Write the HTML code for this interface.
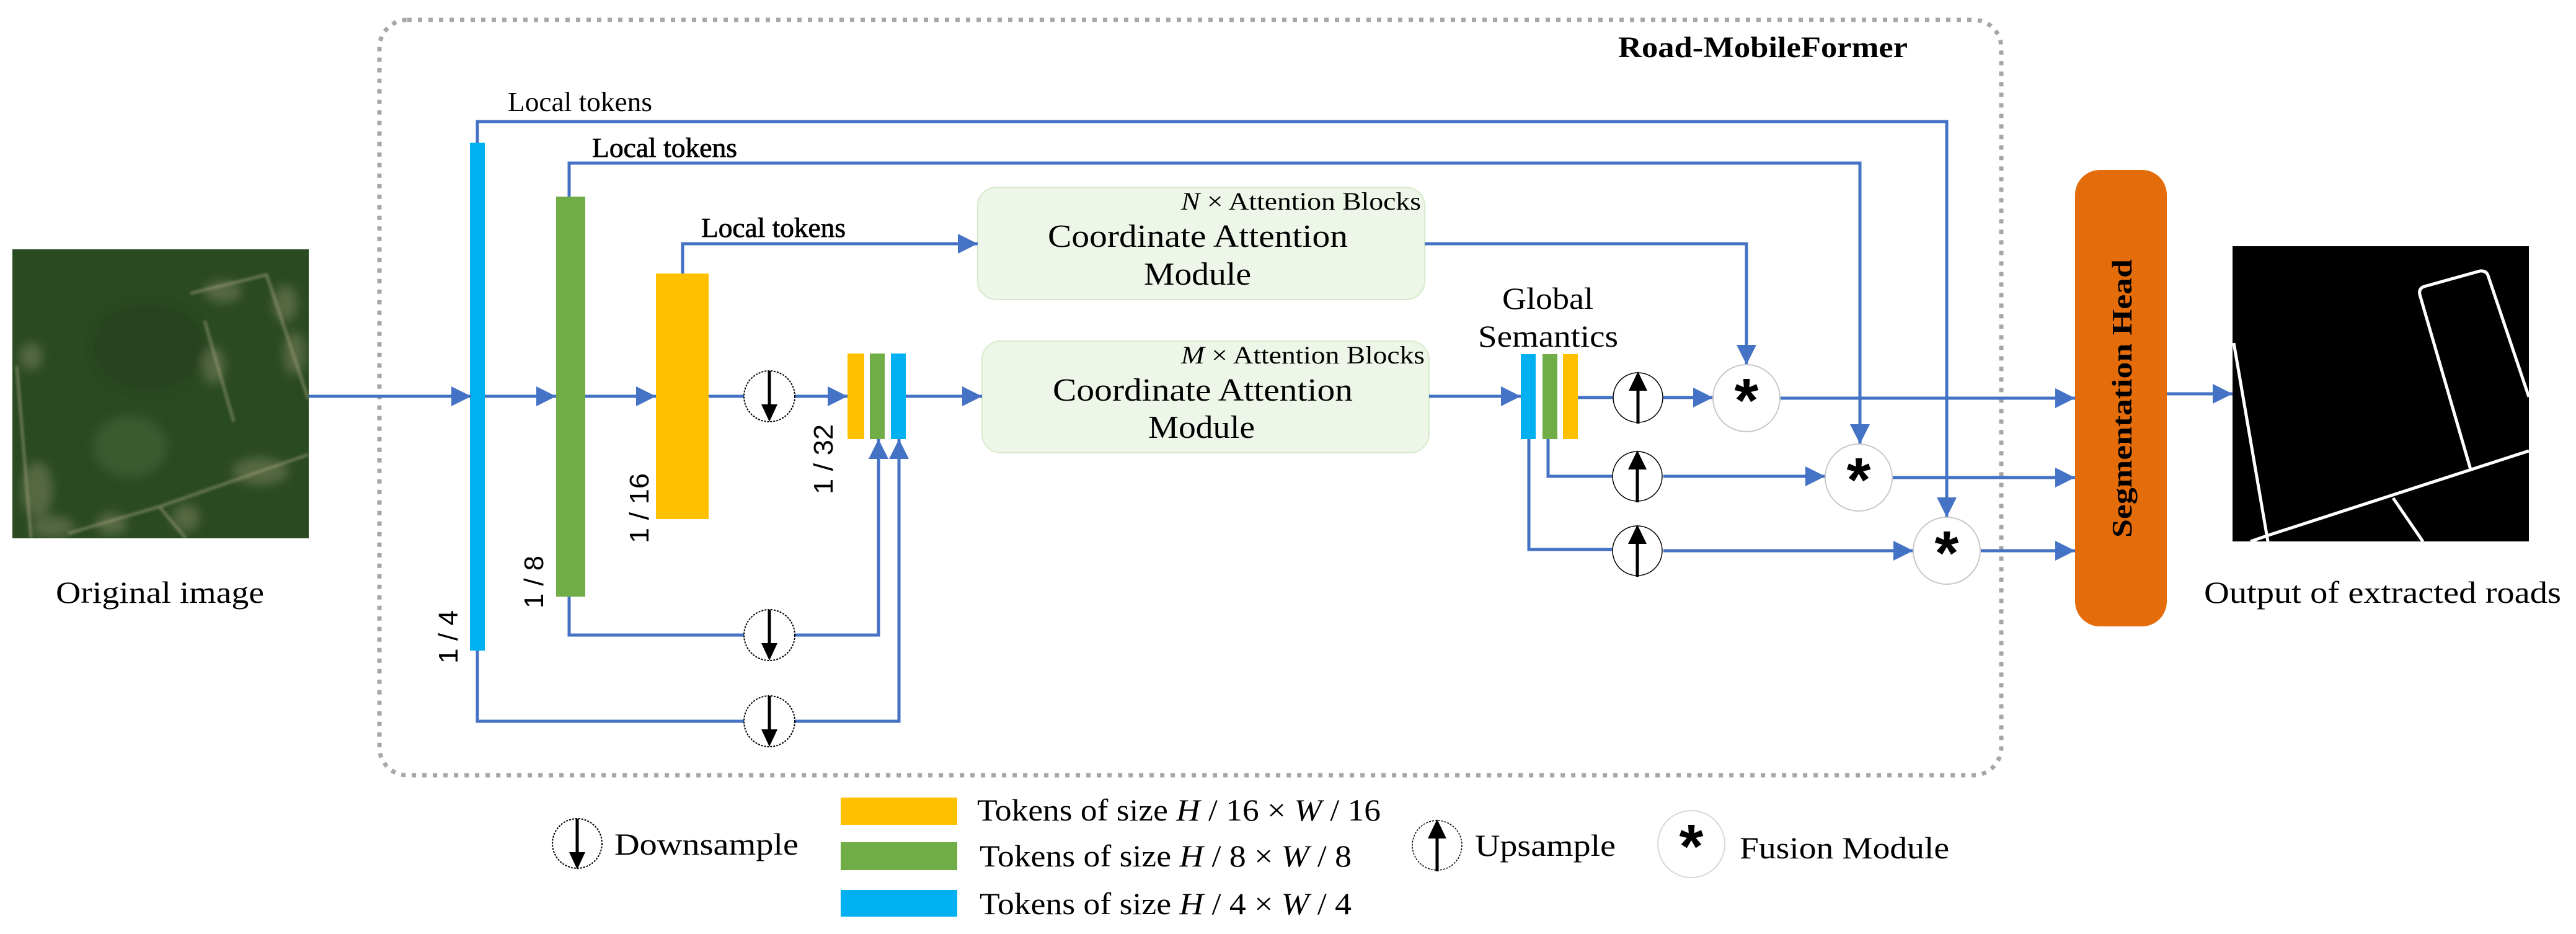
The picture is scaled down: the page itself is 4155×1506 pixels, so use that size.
<!DOCTYPE html>
<html><head><meta charset="utf-8"><style>
html,body{margin:0;padding:0;background:#fff;}
svg{display:block;}
text{font-family:"Liberation Serif",serif;fill:#000;}
.s{font-family:"Liberation Sans",sans-serif;}
.ln{fill:none;stroke:#4472C4;stroke-width:5;}
</style></head><body>
<svg width="4155" height="1506" viewBox="0 0 4155 1506" xmlns="http://www.w3.org/2000/svg">
<defs>
<marker id="a" markerUnits="userSpaceOnUse" markerWidth="34" markerHeight="34" refX="32" refY="16" orient="auto">
<path d="M0,0 L32,16 L0,32 Z" fill="#4472C4"/></marker>
<filter id="bl" x="-50%" y="-50%" width="200%" height="200%"><feGaussianBlur stdDeviation="8"/></filter>
<filter id="bl2"><feGaussianBlur stdDeviation="2"/></filter>
</defs>

<rect x="612" y="32" width="2616" height="1218" rx="45" fill="none" stroke="#A6A6A6" stroke-width="7" stroke-dasharray="7,10"/>
<text x="2610" y="92" font-size="48" font-weight="bold" textLength="467" lengthAdjust="spacingAndGlyphs">Road-MobileFormer</text>

<svg x="20" y="402" width="478" height="466" viewBox="20 402 478 466">
<rect x="20" y="402" width="478" height="466" fill="#2a4a22"/>
<g filter="url(#bl)">
<ellipse cx="210" cy="720" rx="60" ry="50" fill="#446536" opacity="0.6"/>
<ellipse cx="240" cy="560" rx="90" ry="70" fill="#213e1b" opacity="0.7"/>
<g fill="#8a8c68" opacity="0.45">
<ellipse cx="360" cy="470" rx="30" ry="18"/><ellipse cx="460" cy="490" rx="20" ry="30"/>
<ellipse cx="345" cy="590" rx="18" ry="30"/><ellipse cx="475" cy="570" rx="18" ry="35"/>
<ellipse cx="60" cy="790" rx="25" ry="45"/><ellipse cx="85" cy="850" rx="35" ry="18"/>
<ellipse cx="180" cy="845" rx="25" ry="18"/><ellipse cx="420" cy="760" rx="45" ry="22"/>
<ellipse cx="300" cy="835" rx="22" ry="22"/><ellipse cx="50" cy="575" rx="18" ry="22"/>
</g>
</g>
<g fill="none" stroke="#a8a482" stroke-width="4" opacity="0.6" filter="url(#bl2)">
<path d="M27,590 L50,867"/><path d="M330,517 L377,680"/><path d="M307,473 L430,443 L497,643"/>
<path d="M257,817 L497,733"/><path d="M110,860 L257,817 L300,868"/>
</g>
</svg>
<text x="90" y="972" font-size="50" textLength="336" lengthAdjust="spacingAndGlyphs">Original image</text>

<rect x="758" y="230" width="24" height="819" fill="#00B0F0"/>
<rect x="897" y="317" width="47" height="645" fill="#70AD47"/>
<rect x="1058" y="441" width="85" height="396" fill="#FFC000"/>
<rect x="1367" y="570" width="27" height="138" fill="#FFC000"/>
<rect x="1403" y="570" width="24" height="138" fill="#70AD47"/>
<rect x="1437" y="570" width="24" height="138" fill="#00B0F0"/>

<text class="s" font-size="44" transform="translate(738,1070) rotate(-90)" textLength="86" lengthAdjust="spacingAndGlyphs">1 / 4</text>
<text class="s" font-size="44" transform="translate(876,981) rotate(-90)" textLength="85" lengthAdjust="spacingAndGlyphs">1 / 8</text>
<text class="s" font-size="44" transform="translate(1046,876) rotate(-90)" textLength="113" lengthAdjust="spacingAndGlyphs">1 / 16</text>
<text class="s" font-size="44" transform="translate(1343,797) rotate(-90)" textLength="113" lengthAdjust="spacingAndGlyphs">1 / 32</text>

<rect x="1577" y="302" width="721" height="181" rx="30" fill="#EEF6E9" stroke="#D6EACB" stroke-width="2"/>
<rect x="1584" y="550" width="721" height="180" rx="30" fill="#EEF6E9" stroke="#D6EACB" stroke-width="2"/>
<text x="1905" y="338" font-size="40" textLength="387" lengthAdjust="spacingAndGlyphs"><tspan font-style="italic">N</tspan> × Attention Blocks</text>
<text x="1690" y="398" font-size="52" textLength="484" lengthAdjust="spacingAndGlyphs">Coordinate Attention</text>
<text x="1845" y="459" font-size="52" textLength="173" lengthAdjust="spacingAndGlyphs">Module</text>
<text x="1905" y="586" font-size="40" textLength="393" lengthAdjust="spacingAndGlyphs"><tspan font-style="italic">M</tspan> × Attention Blocks</text>
<text x="1698" y="646" font-size="52" textLength="484" lengthAdjust="spacingAndGlyphs">Coordinate Attention</text>
<text x="1852" y="706" font-size="52" textLength="172" lengthAdjust="spacingAndGlyphs">Module</text>

<text x="819" y="179" font-size="44" textLength="233" lengthAdjust="spacingAndGlyphs">Local tokens</text>
<text x="955" y="253" font-size="44" textLength="234" lengthAdjust="spacingAndGlyphs" stroke="#000" stroke-width="0.8">Local tokens</text>
<text x="1131" y="382" font-size="44" textLength="233" lengthAdjust="spacingAndGlyphs" stroke="#000" stroke-width="0.8">Local tokens</text>

<text x="2423" y="498" font-size="50" textLength="147" lengthAdjust="spacingAndGlyphs">Global</text>
<text x="2384" y="559" font-size="50" textLength="226" lengthAdjust="spacingAndGlyphs">Semantics</text>
<rect x="2453" y="571" width="24" height="137" fill="#00B0F0"/>
<rect x="2488" y="571" width="24" height="137" fill="#70AD47"/>
<rect x="2521" y="571" width="24" height="137" fill="#FFC000"/>

<path class="ln" d="M498,639 H760" marker-end="url(#a)"/>
<path class="ln" d="M782,639 H897" marker-end="url(#a)"/>
<path class="ln" d="M944,639 H1058" marker-end="url(#a)"/>
<path class="ln" d="M1143,639 H1200"/>
<path class="ln" d="M1282,639 H1367" marker-end="url(#a)"/>
<path class="ln" d="M1461,639 H1584" marker-end="url(#a)"/>
<path class="ln" d="M2305,639 H2453" marker-end="url(#a)"/>
<path class="ln" d="M2545,641 H2601"/>
<path class="ln" d="M2683,641 H2763" marker-end="url(#a)"/>
<path class="ln" d="M2872,642 H3347" marker-end="url(#a)"/>
<path class="ln" d="M2497,708 V768 H2601"/>
<path class="ln" d="M2683,768 H2944" marker-end="url(#a)"/>
<path class="ln" d="M2466,708 V886 H2601"/>
<path class="ln" d="M2683,888 H3086" marker-end="url(#a)"/>
<path class="ln" d="M3053,770 H3347" marker-end="url(#a)"/>
<path class="ln" d="M3195,888 H3347" marker-end="url(#a)"/>
<path class="ln" d="M3495,635 H3601" marker-end="url(#a)"/>
<path class="ln" d="M770,230 V196 H3140 V834" marker-end="url(#a)"/>
<path class="ln" d="M918,317 V263 H3000 V716" marker-end="url(#a)"/>
<path class="ln" d="M1101,441 V393 H1577" marker-end="url(#a)"/>
<path class="ln" d="M2298,393 H2817 V588" marker-end="url(#a)"/>
<path class="ln" d="M918,962 V1024 H1200"/>
<path class="ln" d="M1282,1024 H1417 V708" marker-end="url(#a)"/>
<path class="ln" d="M770,1049 V1163 H1200"/>
<path class="ln" d="M1282,1163 H1450 V708" marker-end="url(#a)"/>

<circle cx="1241" cy="639" r="41" fill="#fff" stroke="#000" stroke-width="2" stroke-dasharray="3,2"/>
<path d="M1241,598 V660" stroke="#000" stroke-width="5"/><path d="M1228,652 L1254,652 L1241,680 Z" fill="#000"/>
<circle cx="1241" cy="1024" r="41" fill="#fff" stroke="#000" stroke-width="2" stroke-dasharray="3,2"/>
<path d="M1241,983 V1045" stroke="#000" stroke-width="5"/><path d="M1228,1037 L1254,1037 L1241,1065 Z" fill="#000"/>
<circle cx="1241" cy="1163" r="41" fill="#fff" stroke="#000" stroke-width="2" stroke-dasharray="3,2"/>
<path d="M1241,1122 V1184" stroke="#000" stroke-width="5"/><path d="M1228,1176 L1254,1176 L1241,1204 Z" fill="#000"/>

<circle cx="2642" cy="641" r="40" fill="#fff" stroke="#000" stroke-width="1.5"/>
<path d="M2642,620 V683" stroke="#000" stroke-width="5"/><path d="M2627,630 L2657,630 L2642,599 Z" fill="#000"/>
<circle cx="2641" cy="768" r="40" fill="#fff" stroke="#000" stroke-width="1.5"/>
<path d="M2641,747 V810" stroke="#000" stroke-width="5"/><path d="M2626,757 L2656,757 L2641,726 Z" fill="#000"/>
<circle cx="2641" cy="888" r="40" fill="#fff" stroke="#000" stroke-width="1.5"/>
<path d="M2641,867 V930" stroke="#000" stroke-width="5"/><path d="M2626,877 L2656,877 L2641,846 Z" fill="#000"/>

<circle cx="2817" cy="642" r="54" fill="#fff" stroke="#C8C8C8" stroke-width="2"/>
<text x="2817" y="680" font-size="100" font-weight="bold" text-anchor="middle" class="s">*</text>
<circle cx="2998" cy="770" r="54" fill="#fff" stroke="#C8C8C8" stroke-width="2"/>
<text x="2998" y="808" font-size="100" font-weight="bold" text-anchor="middle" class="s">*</text>
<circle cx="3140" cy="888" r="54" fill="#fff" stroke="#C8C8C8" stroke-width="2"/>
<text x="3140" y="926" font-size="100" font-weight="bold" text-anchor="middle" class="s">*</text>

<rect x="3347" y="274" width="148" height="736" rx="40" fill="#E46C0A"/>
<text transform="translate(3438,867) rotate(-90)" font-size="46" font-weight="bold" textLength="449" lengthAdjust="spacingAndGlyphs">Segmentation Head</text>

<rect x="3601" y="397" width="478" height="476" fill="#000"/>
<g fill="none" stroke="#fff" stroke-width="5" stroke-linejoin="round">
<path d="M3603,553 L3658,873"/>
<path d="M3630,873 L3662,862 L4079,727"/>
<path d="M3985,757 L3903,475 Q3901,465 3910,462 L4000,437 Q4010,436 4013,444 L4079,640"/>
<path d="M3860,803 L3908,873"/>
</g>
<text x="3555" y="972" font-size="50" textLength="576" lengthAdjust="spacingAndGlyphs">Output of extracted roads</text>

<circle cx="931" cy="1360" r="40" fill="#fff" stroke="#000" stroke-width="2" stroke-dasharray="3,2"/>
<path d="M931,1320 V1382" stroke="#000" stroke-width="5"/><path d="M918,1374 L944,1374 L931,1402 Z" fill="#000"/>
<text x="991" y="1378" font-size="50" textLength="297" lengthAdjust="spacingAndGlyphs">Downsample</text>
<rect x="1356" y="1286" width="188" height="44" fill="#FFC000"/>
<rect x="1356" y="1358" width="188" height="45" fill="#70AD47"/>
<rect x="1356" y="1435" width="188" height="43" fill="#00B0F0"/>
<text x="1576" y="1323" font-size="50" textLength="651" lengthAdjust="spacingAndGlyphs">Tokens of size <tspan font-style="italic">H</tspan> / 16 × <tspan font-style="italic">W</tspan> / 16</text>
<text x="1580" y="1397" font-size="50" textLength="600" lengthAdjust="spacingAndGlyphs">Tokens of size <tspan font-style="italic">H</tspan> / 8 × <tspan font-style="italic">W</tspan> / 8</text>
<text x="1580" y="1474" font-size="50" textLength="600" lengthAdjust="spacingAndGlyphs">Tokens of size <tspan font-style="italic">H</tspan> / 4 × <tspan font-style="italic">W</tspan> / 4</text>
<circle cx="2318" cy="1363" r="40" fill="#fff" stroke="#000" stroke-width="1.5" stroke-dasharray="3,2"/>
<path d="M2318,1342 V1405" stroke="#000" stroke-width="5"/><path d="M2303,1352 L2333,1352 L2318,1321 Z" fill="#000"/>
<text x="2379" y="1380" font-size="50" textLength="227" lengthAdjust="spacingAndGlyphs">Upsample</text>
<circle cx="2728" cy="1361" r="54" fill="#fff" stroke="#D8D8D8" stroke-width="2"/>
<text x="2728" y="1399" font-size="100" font-weight="bold" text-anchor="middle" class="s">*</text>
<text x="2806" y="1384" font-size="50" textLength="338" lengthAdjust="spacingAndGlyphs">Fusion Module</text>
</svg>
</body></html>
